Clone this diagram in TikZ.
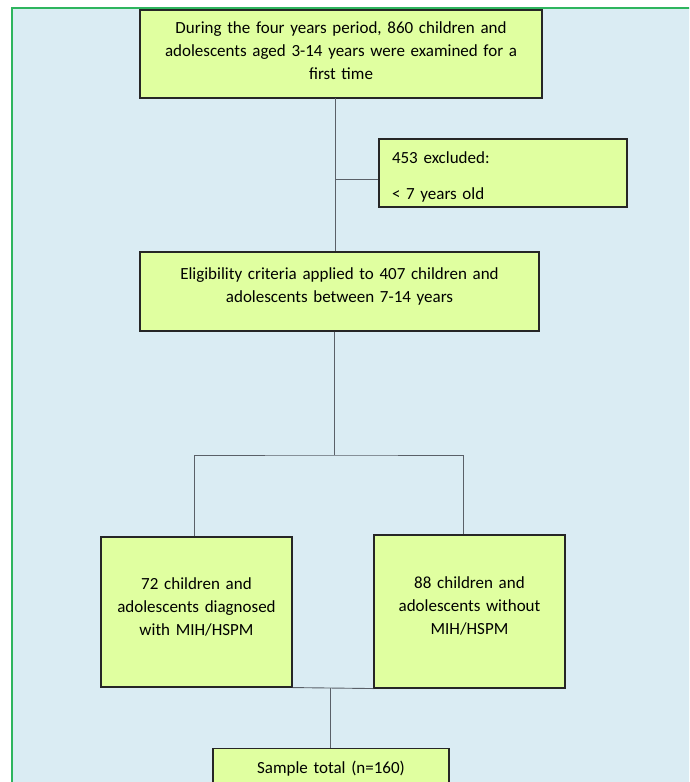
\documentclass[tikz,border=0pt]{standalone}
\usepackage{fontspec}
\setmainfont{Carlito}
\definecolor{panelblue}{HTML}{DAECF3}
\definecolor{panelgreen}{HTML}{2EB55E}
\definecolor{boxfill}{HTML}{E0FFA0}
\definecolor{linkgrey}{HTML}{5A6068}

\begin{document}
\begin{tikzpicture}[x=1pt, y=-1pt,
		stage/.style={draw=black!85, line width=1.1pt, fill=boxfill, align=center, inner sep=0pt,
			font=\fontsize{17}{23}\selectfont},
		lift/.style={execute at end node={\endgraf\vspace{#1}}},
		link/.style={draw=linkgrey, line width=0.9pt}
			]
	\useasboundingbox (0,0) rectangle (689,782);
	\clip (0,0) rectangle (689,782);
	\fill[white] (0,0) rectangle (689,782);
	\draw[panelgreen, line width=1.6pt, fill=panelblue] (12,8) rectangle (720,820);

	% boxes
	\node[stage, lift=7pt, minimum width=402, minimum height=88, text width=390] (exam) at (341,54)
		{During the four years period, 860 children and\\ adolescents aged 3-14 years were examined for a\\ first time};
	\node[stage, lift=-8pt, minimum width=248, minimum height=68, text width=222, align=left] (excl) at (503,173)
		{453 excluded:\\[13pt] < 7 years old};
	\node[stage, lift=10pt, minimum width=399, minimum height=79, text width=380] (elig) at (339.5,291.5)
		{Eligibility criteria applied to 407 children and\\ adolescents between 7-14 years};
	\node[stage, lift=11pt, minimum width=191, minimum height=150, text width=185] (mih) at (196.5,612)
		{72 children and\\ adolescents diagnosed\\ with MIH/HSPM};
	\node[stage, lift=11pt, minimum width=191, minimum height=153, text width=185] (nomih) at (469.5,611.5)
		{88 children and\\ adolescents without\\ MIH/HSPM};
	\node[stage, minimum width=236, minimum height=40, text width=220, anchor=north] (total) at (331,748)
		{Sample total (n=160)};

	% connectors
	\coordinate (spine) at (335,98);
	\coordinate (branch) at (334,455);
	\coordinate (join) at (330,688);
	\draw[link] (spine) -- (spine |- elig.north);
	\draw[link] ([yshift=-6]excl.west) -- ([yshift=-6]excl.west -| spine);
	\draw[link] (elig.south -| branch) -- (branch);
	\draw[link] ([xshift=-2.5]mih.north) |- (branch) -| ([xshift=-6.5]nomih.north);
	\draw[link] (mih.south east) -- (nomih.south west);
	\draw[link] (join) -- (join |- total.north);
\end{tikzpicture}
\end{document}
